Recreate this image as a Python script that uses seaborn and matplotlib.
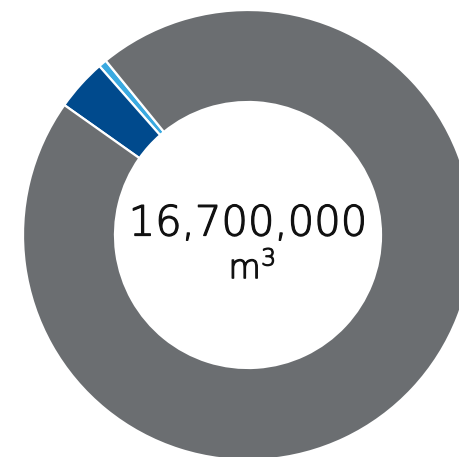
import matplotlib
matplotlib.use("Agg")
import matplotlib.pyplot as plt
import matplotlib.patheffects as pe
import seaborn as sns

# Data (m³), proportions read from the ring
categories = ["Segment A", "Segment B", "Remainder"]
values = [100000, 620000, 15980000]
colors = ["#3aa9e0", "#004a8d", "#6b6e71"]
total_label = "16,700,000"
unit_label = "m$^{\\mathregular{3}}$"

sns.set_theme(style="white")
plt.rcParams['font.family'] = ['DejaVu Sans']
plt.rcParams['mathtext.fontset'] = 'custom'
plt.rcParams['mathtext.rm'] = 'DejaVu Sans:light'
plt.rcParams['mathtext.it'] = 'DejaVu Sans:light'

fig = plt.figure(figsize=(4.60, 4.57), dpi=100)
ax = fig.add_axes([0, 0, 1, 1])
ax.set_xlim(0, 460)
ax.set_ylim(0, 457)
ax.axis("off")

ax.pie(values, colors=colors, startangle=129.2, counterclock=True,
       center=(248, 222), radius=225,
       wedgeprops=dict(width=92, edgecolor="white", linewidth=1.6))
ax.set_xlim(0, 460)
ax.set_ylim(0, 457)
ax.set_aspect("equal")

fx = [pe.withStroke(linewidth=0.9, foreground="#111111")]
ax.text(248, 457 - 223, total_label, ha="center", va="center",
        fontsize=30, color="#111111", fontweight="light", path_effects=fx)
ax.text(252, 457 - 268, unit_label, ha="center", va="center",
        fontsize=24, color="#111111", fontweight="light", path_effects=fx)

fig.savefig("out.png", dpi=100, facecolor="white")
